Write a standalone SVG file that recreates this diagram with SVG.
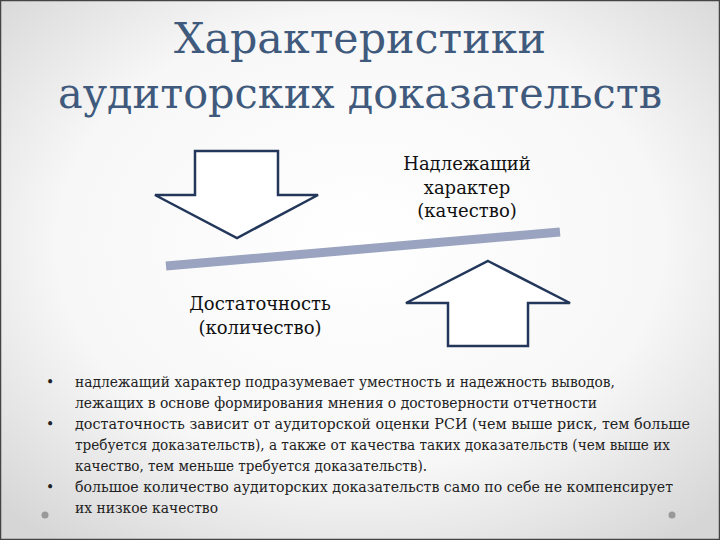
<svg xmlns="http://www.w3.org/2000/svg" width="720" height="540" viewBox="0 0 720 540">
<defs>
<radialGradient id="bg" cx="50%" cy="45%" r="70%">
<stop offset="0" stop-color="#ffffff"/><stop offset="0.6" stop-color="#f7f7f7"/><stop offset="1" stop-color="#d6d6d6"/>
</radialGradient>
<style>
.t{font-family:"DejaVu Serif","Liberation Serif",serif;fill:#3f5a7c;font-size:42px;text-anchor:middle}
.l{font-family:"DejaVu Serif","Liberation Serif",serif;fill:#111;font-size:18px;text-anchor:middle}
.b{font-family:"DejaVu Serif","Liberation Serif",serif;fill:#222;font-size:14px}
.arr{fill:#fff;stroke:#22375a;stroke-width:2.5;stroke-linejoin:miter}
</style>
</defs>
<rect width="720" height="540" fill="url(#bg)"/>
<rect x="0.5" y="0.5" width="719" height="539" fill="none" stroke="#444" stroke-width="1.5"/>
<g id="title">
<text class="t" x="360" y="53" textLength="372" lengthAdjust="spacingAndGlyphs">Характеристики</text>
<text class="t" x="360" y="108" textLength="604" lengthAdjust="spacingAndGlyphs">аудиторских доказательств</text>
</g>
<g id="down-arrow"><polygon class="arr" points="195,151 278,151 278,195 318,195 237,238 155,195 195,195"/></g>
<g id="up-arrow"><polygon class="arr" points="488,261 570,303 528,303 528,346 448,346 448,303 406,303"/></g>
<g id="bar"><line x1="166" y1="266" x2="560" y2="232" stroke="#9aa3bf" stroke-width="9"/></g>
<g id="quality">
<text class="l" x="467" y="170">Надлежащий</text>
<text class="l" x="467" y="194">характер</text>
<text class="l" x="467" y="217">(качество)</text>
</g>
<g id="sufficiency">
<text class="l" x="260" y="310">Достаточность</text>
<text class="l" x="260" y="334">(количество)</text>
</g>
<g id="bullets">
<text class="b" x="46" y="387">•</text>
<text class="b" x="75" y="387" textLength="540" lengthAdjust="spacingAndGlyphs">надлежащий характер подразумевает уместность и надежность выводов,</text>
<text class="b" x="75" y="408" textLength="522" lengthAdjust="spacingAndGlyphs">лежащих в основе формирования мнения о достоверности отчетности</text>
<text class="b" x="46" y="429">•</text>
<text class="b" x="75" y="429" textLength="615" lengthAdjust="spacingAndGlyphs">достаточность зависит от аудиторской оценки РСИ (чем выше риск, тем больше</text>
<text class="b" x="75" y="450" textLength="595" lengthAdjust="spacingAndGlyphs">требуется доказательств), а также от качества таких доказательств (чем выше их</text>
<text class="b" x="75" y="471" textLength="352" lengthAdjust="spacingAndGlyphs">качество, тем меньше требуется доказательств).</text>
<text class="b" x="46" y="492">•</text>
<text class="b" x="75" y="492" textLength="598" lengthAdjust="spacingAndGlyphs">большое количество аудиторских доказательств само по себе не компенсирует</text>
<text class="b" x="75" y="513" textLength="143" lengthAdjust="spacingAndGlyphs">их низкое качество</text>
</g>
<circle cx="45" cy="515" r="3.5" fill="#999"/>
<circle cx="672" cy="515" r="3.5" fill="#999"/>
</svg>
